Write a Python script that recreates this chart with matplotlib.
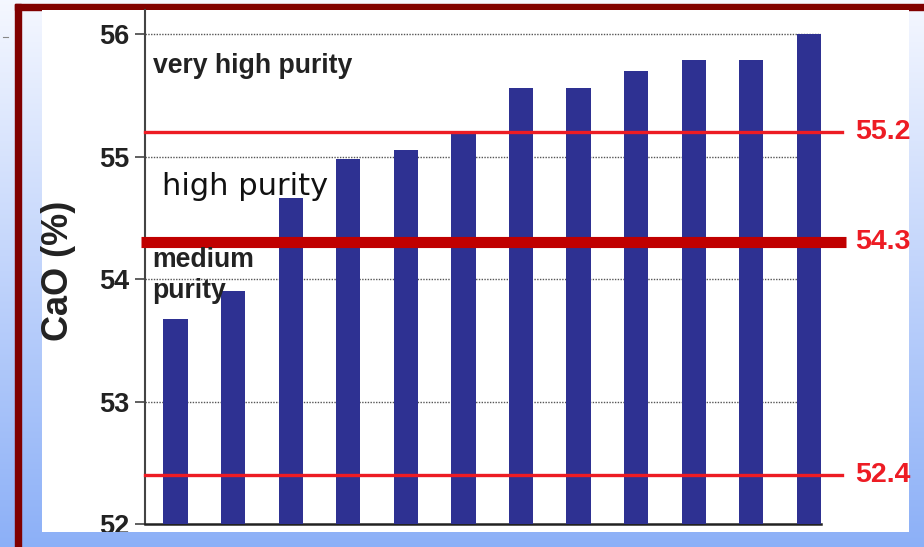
import numpy as np
import matplotlib
matplotlib.use("Agg")
import matplotlib.pyplot as plt
from matplotlib.patches import Rectangle
from matplotlib.lines import Line2D

# CaO content of the samples, sorted
samples = np.arange(12)
cao = [53.67, 53.90, 54.66, 54.98, 55.05, 55.20, 55.56, 55.56, 55.70, 55.79, 55.79, 56.00]

# purity class limits
limits_thin = [55.2, 52.4]
limit_main = 54.3
yticks = [52, 53, 54, 55, 56]

W, H = 924, 547
fig = plt.figure(figsize=(W / 100, H / 100), dpi=100)

def fx(px):
    return px / W

def fy(py):
    return 1 - py / H

# slide background: vertical gradient
bg = fig.add_axes([0, 0, 1, 1], zorder=-5)
grad = np.linspace(0, 1, 256)[:, None]
top = np.array([0.96, 0.97, 1.0])
bot = np.array([0.55, 0.69, 0.97])
img = top[None, None, :] * (1 - grad[:, :, None]) + bot[None, None, :] * grad[:, :, None]
bg.imshow(img, aspect="auto", extent=[0, 1, 0, 1])
bg.set_axis_off()

# dark red frame (runs off the right and bottom edges)
frame_col = "#800000"
fig.add_artist(Rectangle((fx(15), fy(547)), fx(6), fy(4) - fy(547),
                         transform=fig.transFigure, color=frame_col, zorder=-3))
fig.add_artist(Rectangle((fx(15), fy(10)), 1 - fx(15), fy(4) - fy(10),
                         transform=fig.transFigure, color=frame_col, zorder=-3))
fig.add_artist(Line2D([fx(3), fx(8)], [fy(37), fy(37)], transform=fig.transFigure,
                      color="#888888", lw=0.8, zorder=-3))

# white chart panel
panel = Rectangle((fx(42), fy(532)), fx(909) - fx(42), fy(10) - fy(532),
                  transform=fig.transFigure, facecolor="white", edgecolor="none", zorder=-2)
fig.add_artist(panel)

ax = fig.add_axes([fx(145), fy(524), fx(821) - fx(145), fy(10) - fy(524)], zorder=2)
ax.set_facecolor("none")

ax.bar(samples, cao, width=0.42, bottom=0, color="#2e3192", zorder=3)
ax.set_xlim(-0.53, 11.21)
ax.set_ylim(52, 56.196)

for g in [53, 54, 55, 56]:
    ax.axhline(g, color="#555555", lw=1.0, ls=(0, (1, 1)), zorder=1)

for v in limits_thin:
    ax.axhline(v, xmin=0, xmax=1.031, color="#ed1c24", lw=2.4, zorder=4, clip_on=False)
ax.axhline(limit_main, xmin=-0.006, xmax=1.037, color="#c00000", lw=8, zorder=5,
           clip_on=False, solid_capstyle="butt")

for v in limits_thin + [limit_main]:
    t = ax.text(1.05, v, f"{v:.1f}", transform=ax.get_yaxis_transform(), ha="left",
                va="center", color="#ed1c24", fontsize=20.5, fontweight="bold",
                family="Liberation Sans", zorder=6)
    t.set_clip_path(panel)

ax.set_yticks(yticks)
ax.set_yticklabels([str(v) for v in yticks])
ax.set_xticks([])
ax.tick_params(axis="y", direction="out", length=7, width=1.2, color="#444444", pad=4)
for lab in ax.get_yticklabels():
    lab.set_fontfamily("Liberation Sans")
    lab.set_fontweight("bold")
    lab.set_fontsize(19.5)
    lab.set_color("#222222")
    lab.set_clip_path(panel)

for s in ["top", "right"]:
    ax.spines[s].set_visible(False)
ax.spines["left"].set_color("#444444")
ax.spines["left"].set_linewidth(1.5)
ax.spines["bottom"].set_color("#222222")
ax.spines["bottom"].set_linewidth(1.8)

# class names
bold = dict(family="Liberation Sans", fontweight="bold", fontsize=19.2, color="#222222",
            transform=ax.get_yaxis_transform(), va="baseline", ha="left", zorder=6)
ax.text(0.012, 55.68, "very high purity", **bold)
ax.text(0.010, 54.098, "medium", **bold)
ax.text(0.010, 53.845, "purity", **bold)
ax.text(0.025, 54.686, "high purity", family="DejaVu Sans", fontweight="normal",
        fontsize=22, color="#111111",
        transform=ax.get_yaxis_transform(), va="baseline", ha="left", zorder=6)

fig.text(fx(58), fy(271), "CaO (%)", rotation=90, ha="center", va="center",
         family="Liberation Sans", fontweight="bold", fontsize=26, color="#222222")

fig.savefig("out.png", dpi=100)
